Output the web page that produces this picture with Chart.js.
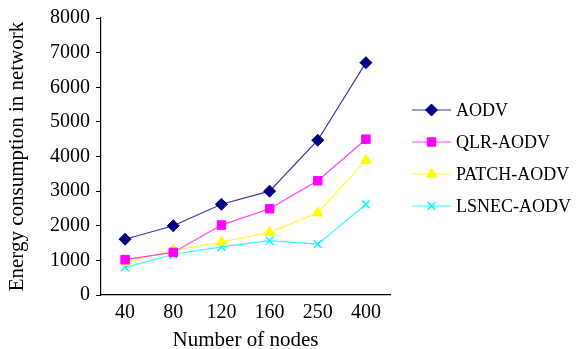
<!DOCTYPE html>
<html>
<head>
<meta charset="utf-8">
<script src="https://cdn.jsdelivr.net/npm/chart.js@4/dist/chart.umd.min.js"></script>
<style>
html,body{margin:0;padding:0;background:#fff;}
#wrap{width:576px;height:349px;position:relative;}
</style>
</head>
<body>
<div id="wrap"><canvas id="c" width="576" height="349"></canvas></div>
<script>
const categories = ['40','80','120','160','250','400'];
const seriesNames = ['AODV','QLR-AODV','PATCH-AODV','LSNEC-AODV'];
const aodv  = [1610, 2000, 2620, 3000, 4470, 6710];
const qlr   = [1020, 1230, 2020, 2490, 3300, 4500];
const patch = [ 940, 1290, 1530, 1810, 2370, 3890];
const lsnec = [ 800, 1170, 1390, 1570, 1470, 2620];
const yTicks = [0,1000,2000,3000,4000,5000,6000,7000,8000];

const FONT = "'Liberation Serif', 'Times New Roman', serif";
Chart.defaults.font.family = FONT;
Chart.defaults.color = '#000';

const styles = [
  {color:'#000080', line:'#3a3a98', point:'rectRot', radius:6},
  {color:'#FF00FF', line:'#FF40FF', point:'rect', radius:6},
  {color:'#FFFF00', line:'#FFFF30', point:'triangle', radius:6},
  {color:'#00FFFF', line:'#30FFFF', point:'crossRot', radius:5.5}
];
const values = [aodv, qlr, patch, lsnec];

const datasets = values.map((v,i)=>({
  label: seriesNames[i],
  data: v,
  borderColor: styles[i].line,
  backgroundColor: styles[i].color,
  pointBackgroundColor: styles[i].color,
  pointBorderColor: styles[i].color,
  pointStyle: styles[i].point,
  pointRadius: styles[i].radius,
  pointBorderWidth: i===3 ? 1.5 : 1,
  borderWidth: 1.2,
  tension: 0,
  fill: false
}));

const legendPlugin = {
  id: 'lineLegend',
  afterDraw(chart) {
    const ctx = chart.ctx;
    const x0 = 412, x1 = 451, tx = 456, y0 = 110, dy = 32;
    chart.data.datasets.forEach((ds, i) => {
      const y = y0 + i*dy;
      ctx.save();
      ctx.strokeStyle = ds.borderColor;
      ctx.lineWidth = 1.2;
      ctx.beginPath(); ctx.moveTo(x0, y); ctx.lineTo(x1, y); ctx.stroke();
      ctx.fillStyle = ds.pointBackgroundColor;
      ctx.strokeStyle = ds.pointBorderColor;
      ctx.lineWidth = ds.pointBorderWidth;
      Chart.helpers.drawPoint(ctx, {pointStyle: ds.pointStyle, rotation: 0, radius: ds.pointRadius, borderWidth: ds.pointBorderWidth}, (x0+x1)/2, y);
      ctx.fillStyle = '#000';
      ctx.font = "18px " + FONT;
      ctx.textBaseline = 'middle';
      ctx.textAlign = 'left';
      ctx.fillText(ds.label, tx, y + 1);
      ctx.restore();
    });
  }
};

new Chart(document.getElementById('c'), {
  type: 'line',
  data: { labels: categories, datasets },
  options: {
    responsive: false,
    animation: false,
    layout: { padding: { left: 0, right: 186, top: 18, bottom: 0 } },
    plugins: { legend: { display: false }, tooltip: { enabled: false } },
    scales: {
      x: {
        offset: true,
        grid: { display: false, drawTicks: false },
        border: { display: true, color: '#000', width: 1.2 },
        ticks: { color: '#000', padding: 6, font: { family: FONT, size: 20 }, maxRotation: 0 },
        title: { display: true, text: 'Number of nodes', color: '#000', font: { family: FONT, size: 21, lineHeight: 0.8 }, padding: { top: 0, bottom: 0 } },
        afterFit(s) { s.height = 54; }
      },
      y: {
        min: 0, max: 8000,
        afterBuildTicks(s) { s.ticks = yTicks.map(v => ({value: v})); },
        grid: { drawOnChartArea: false, drawTicks: true, tickLength: 5, color: '#000', lineWidth: 1 },
        border: { display: true, color: '#000', width: 1.2 },
        ticks: { color: '#000', padding: 6, font: { family: FONT, size: 20 }, callback: (v) => String(v) },
        title: { display: true, text: 'Energy consumption in network', color: '#000', font: { family: FONT, size: 21, lineHeight: 1.2 }, padding: { top: 5, bottom: 0 } },
        afterFit(s) { s.width = 101; }
      }
    }
  },
  plugins: [legendPlugin]
});
</script>
</body>
</html>
